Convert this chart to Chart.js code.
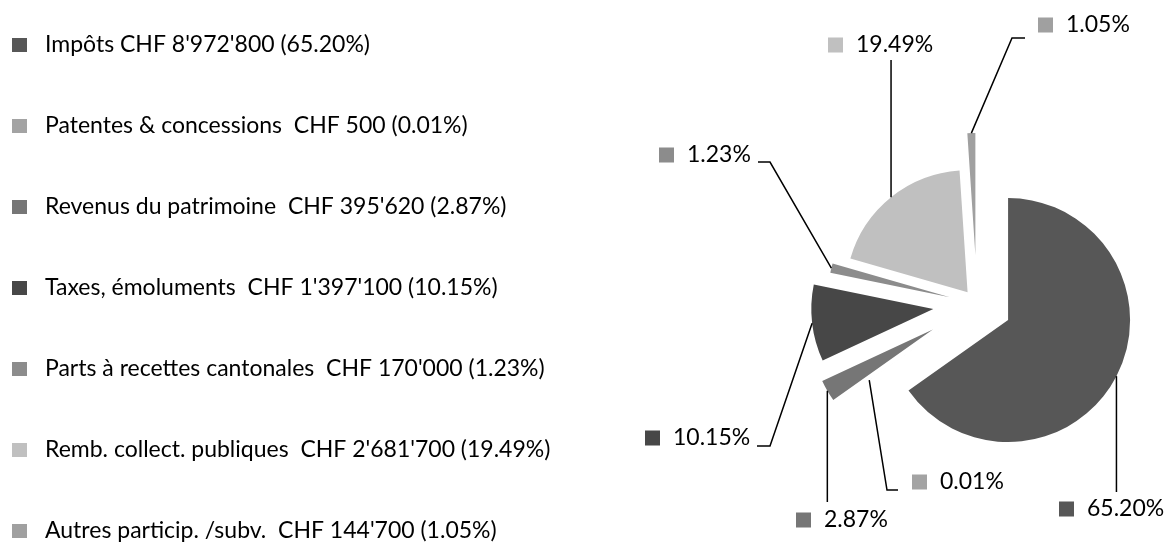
<!DOCTYPE html>
<html lang="fr">
<head>
<meta charset="utf-8">
<title>Revenus</title>
<script src="https://cdn.jsdelivr.net/npm/chart.js@4.4.1/dist/chart.umd.min.js"></script>
<style>
  html, body { margin: 0; padding: 0; background: #fff; }
  #chart-wrap { position: relative; width: 1170px; height: 543px; }
</style>
</head>
<body>
<div id="chart-wrap"><canvas id="revenue-chart" width="1170" height="543"></canvas></div>
<script>
// values
const categories = ['Impôts', 'Patentes & concessions', 'Revenus du patrimoine', 'Taxes, émoluments',
  'Parts à recettes cantonales', 'Remb. collect. publiques', 'Autres particip. /subv.'];
const amounts = [8972800, 500, 395620, 1397100, 170000, 2681700, 144700];
const percentages = [65.20, 0.01, 2.87, 10.15, 1.23, 19.49, 1.05];
const sliceColors = ['#575757', '#a3a3a3', '#767676', '#474747', '#8c8c8c', '#c0c0c0', '#a0a0a0'];

// how far each slice is pulled out of the pie (px)
const explode = [35, 10, 51, 44, 28, 15, 49];
// data label: [marker left x, text middle y]
const labelPos = [[1059, 509], [912, 482], [796, 520], [645, 438], [659, 155], [828, 45], [1038, 25]];
// leader line points after the slice edge, null = keep previous coordinate
const leaders = [
  [[null, 492]],
  [[887, 490], [898, 490]],
  [[null, 502]],
  [[770, 446], [757, 446]],
  [[770, 162], [758, 162]],
  [[null, 60]],
  [[1012, 38], [1025, 38]]
];

const FONT = '23px Lato, "Open Sans", sans-serif';

function chf(n) {
  return String(n).replace(/\B(?=(\d{3})+(?!\d))/g, "'");
}

const explodePlugin = {
  id: 'explode',
  beforeDatasetDraw(chart, args) {
    const ctx = chart.ctx;
    chart.getDatasetMeta(args.index).data.forEach((arc, i) => {
      const mid = (arc.startAngle + arc.endAngle) / 2;
      ctx.save();
      ctx.translate(Math.cos(mid) * explode[i], Math.sin(mid) * explode[i]);
      arc.draw(ctx);
      ctx.restore();
    });
    return false;
  }
};

const labelPlugin = {
  id: 'sliceLabels',
  afterDraw(chart) {
    const ctx = chart.ctx;
    const meta = chart.getDatasetMeta(0);
    ctx.save();
    ctx.font = FONT;
    ctx.textBaseline = 'middle';
    ctx.strokeStyle = '#000';
    ctx.lineWidth = 1.5;

    meta.data.forEach((arc, i) => {
      const mid = (arc.startAngle + arc.endAngle) / 2;
      const r = arc.outerRadius + explode[i];
      let px = arc.x + Math.cos(mid) * r;
      let py = arc.y + Math.sin(mid) * r;
      ctx.beginPath();
      ctx.moveTo(px, py);
      leaders[i].forEach(([lx, ly]) => {
        px = lx ?? px;
        py = ly ?? py;
        ctx.lineTo(px, py);
      });
      ctx.stroke();

      const [bx, ty] = labelPos[i];
      ctx.fillStyle = sliceColors[i];
      ctx.fillRect(bx, ty - 7.5, 15, 15);
      ctx.fillStyle = '#000';
      ctx.fillText(percentages[i].toFixed(2) + '%', bx + 28, ty);
    });

    // legend on the left
    categories.forEach((cat, i) => {
      const y = 45 + i * 81;
      ctx.fillStyle = sliceColors[i];
      ctx.fillRect(12, y - 7, 15, 14);
      ctx.fillStyle = '#000';
      // the first entry has a single space before CHF in the original
      const gap = i === 0 ? ' ' : '  ';
      ctx.fillText(cat + gap + 'CHF ' + chf(amounts[i]) + ' (' + percentages[i].toFixed(2) + '%)', 45, y);
    });
    ctx.restore();
  }
};

const ctx = document.getElementById('revenue-chart').getContext('2d');
new Chart(ctx, {
  type: 'pie',
  data: {
    labels: categories,
    datasets: [{
      data: amounts,
      backgroundColor: sliceColors,
      borderWidth: 0,
      hoverOffset: 0
    }]
  },
  options: {
    responsive: false,
    devicePixelRatio: 1,
    animation: false,
    radius: 122,
    layout: { padding: { left: 784, top: 65, right: 0, bottom: 0 } },
    plugins: {
      legend: { display: false },
      tooltip: { enabled: false }
    }
  },
  plugins: [explodePlugin, labelPlugin]
});
</script>
</body>
</html>
